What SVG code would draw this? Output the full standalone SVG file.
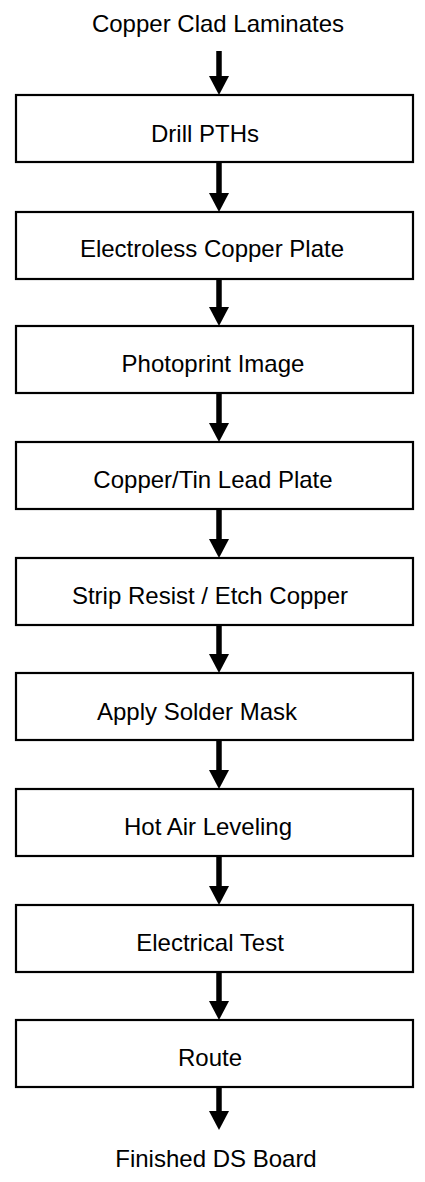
<svg xmlns="http://www.w3.org/2000/svg" width="425" height="1182" viewBox="0 0 425 1182">
  <style>
    .box { fill: #ffffff; stroke: #000000; stroke-width: 2.2; }
    .lbl { font-family: "Liberation Sans", Arial, Helvetica, sans-serif; font-size: 24px; fill: #000000; text-anchor: middle; }
    .flow { stroke: #000000; stroke-width: 5.5; fill: none; marker-end: url(#head); }
  </style>
  <defs>
    <marker id="head" markerUnits="userSpaceOnUse" markerWidth="19" markerHeight="20" refX="0" refY="10" orient="auto">
      <path d="M0,0 L19,10 L0,20 z" fill="#000000"/>
    </marker>
  </defs>
  <rect width="425" height="1182" fill="#ffffff"/>

  <g id="start">
    <text class="lbl" x="218" y="32">Copper Clad Laminates</text>
  </g>

  <g id="drill">
    <rect class="box" x="16" y="95" width="397" height="67"/>
    <text class="lbl" x="205" y="142">Drill PTHs</text>
  </g>
  <g id="electroless">
    <rect class="box" x="16" y="212" width="397" height="67"/>
    <text class="lbl" x="212" y="257">Electroless Copper Plate</text>
  </g>
  <g id="photoprint">
    <rect class="box" x="16" y="326" width="397" height="67"/>
    <text class="lbl" x="213" y="372">Photoprint Image</text>
  </g>
  <g id="pattern-plate">
    <rect class="box" x="16" y="442" width="397" height="67"/>
    <text class="lbl" x="213" y="488">Copper/Tin Lead Plate</text>
  </g>
  <g id="strip-etch">
    <rect class="box" x="16" y="558" width="397" height="67"/>
    <text class="lbl" x="210" y="604">Strip Resist / Etch Copper</text>
  </g>
  <g id="solder-mask">
    <rect class="box" x="16" y="673" width="397" height="67"/>
    <text class="lbl" x="197" y="720">Apply Solder Mask</text>
  </g>
  <g id="hasl">
    <rect class="box" x="16" y="789" width="397" height="67"/>
    <text class="lbl" x="208" y="835">Hot Air Leveling</text>
  </g>
  <g id="etest">
    <rect class="box" x="16" y="905" width="397" height="67"/>
    <text class="lbl" x="210" y="951">Electrical Test</text>
  </g>
  <g id="route">
    <rect class="box" x="16" y="1020" width="397" height="67"/>
    <text class="lbl" x="210" y="1066">Route</text>
  </g>

  <g id="finish">
    <text class="lbl" x="216" y="1167">Finished DS Board</text>
  </g>

  <g id="connectors">
    <line class="flow" x1="219" y1="51" x2="219" y2="76"/>
    <line class="flow" x1="219" y1="162" x2="219" y2="193"/>
    <line class="flow" x1="219" y1="279" x2="219" y2="307"/>
    <line class="flow" x1="219" y1="393" x2="219" y2="423"/>
    <line class="flow" x1="219" y1="509" x2="219" y2="539"/>
    <line class="flow" x1="219" y1="625" x2="219" y2="654"/>
    <line class="flow" x1="219" y1="740" x2="219" y2="770"/>
    <line class="flow" x1="219" y1="856" x2="219" y2="886"/>
    <line class="flow" x1="219" y1="972" x2="219" y2="1001"/>
    <line class="flow" x1="219" y1="1087" x2="219" y2="1111"/>
  </g>
</svg>
